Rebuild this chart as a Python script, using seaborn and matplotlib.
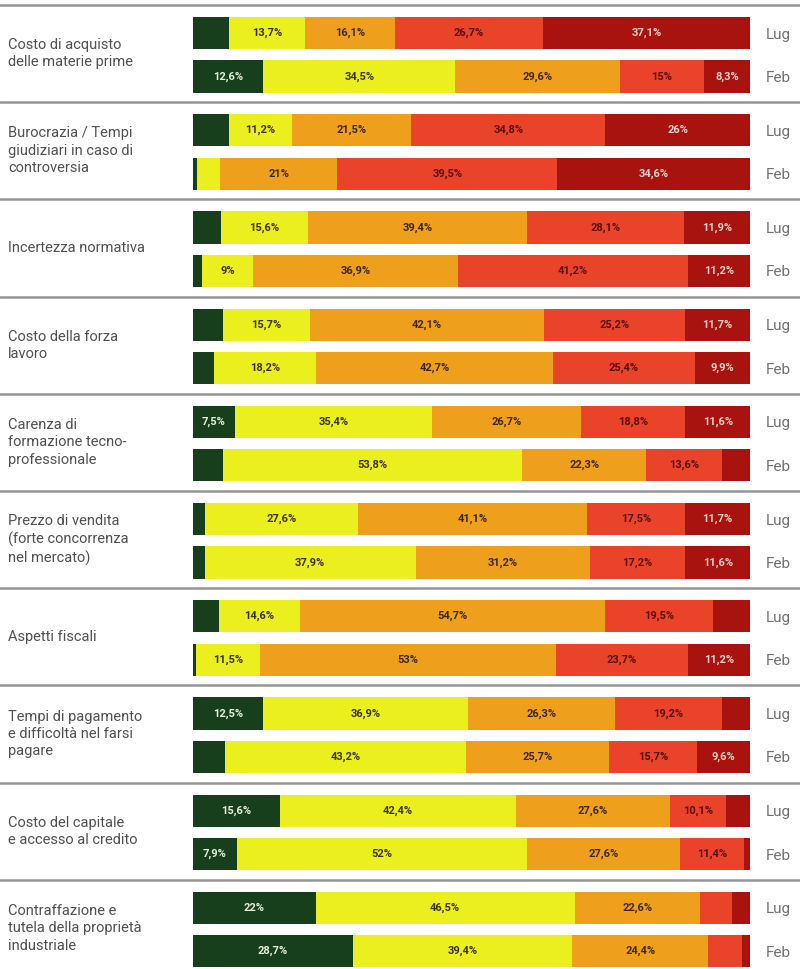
import matplotlib
matplotlib.use("Agg")
import matplotlib.pyplot as plt
from matplotlib.lines import Line2D
import seaborn as sns
import pandas as pd

sns.set_style("white")
plt.rcParams['font.family'] = ['Liberation Sans Narrow', 'Roboto', 'DejaVu Sans']

categories = [
    "Costo di acquisto\ndelle materie prime",
    "Burocrazia / Tempi\ngiudiziari in caso di\ncontroversia",
    "Incertezza normativa",
    "Costo della forza\nlavoro",
    "Carenza di\nformazione tecno-\nprofessionale",
    "Prezzo di vendita\n(forte concorrenza\nnel mercato)",
    "Aspetti fiscali",
    "Tempi di pagamento\ne difficoltà nel farsi\npagare",
    "Costo del capitale\ne accesso al credito",
    "Contraffazione e\ntutela della proprietà\nindustriale",
]
periods = ["Lug", "Feb"]

# values per level, ordered [cat1 Lug, cat1 Feb, cat2 Lug, cat2 Feb, ...]
livello_1 = [6.4, 12.6, 6.5, 0.8, 5.0, 1.7, 5.3, 3.8, 7.5, 5.3,
             2.1, 2.1, 4.6, 0.6, 12.5, 5.8, 15.6, 7.9, 22.0, 28.7]
livello_2 = [13.7, 34.5, 11.2, 4.1, 15.6, 9.0, 15.7, 18.2, 35.4, 53.8,
             27.6, 37.9, 14.6, 11.5, 36.9, 43.2, 42.4, 52.0, 46.5, 39.4]
livello_3 = [16.1, 29.6, 21.5, 21.0, 39.4, 36.9, 42.1, 42.7, 26.7, 22.3,
             41.1, 31.2, 54.7, 53.0, 26.3, 25.7, 27.6, 27.6, 22.6, 24.4]
livello_4 = [26.7, 15.0, 34.8, 39.5, 28.1, 41.2, 25.2, 25.4, 18.8, 13.6,
             17.5, 17.2, 19.5, 23.7, 19.2, 15.7, 10.1, 11.4, 5.7, 6.1]
livello_5 = [37.1, 8.3, 26.0, 34.6, 11.9, 11.2, 11.7, 9.9, 11.6, 5.0,
             11.7, 11.6, 6.6, 11.2, 5.1, 9.6, 4.3, 1.1, 3.2, 1.4]

levels = [livello_1, livello_2, livello_3, livello_4, livello_5]
colors = ["#173f1b", "#ecef1e", "#eea01c", "#e9432a", "#a8130f"]
text_colors = ["#e4eedc", "#3a3300", "#3f2600", "#5a0f08", "#f6d0c8"]

W, H = 800, 969
fig = plt.figure(figsize=(W / 100, H / 100), dpi=100)
fig.patch.set_facecolor("white")

left_px, right_px = 193, 750
top0, step = 5, 97.2

def fmt(v):
    if abs(v - round(v)) < 1e-9:
        return f"{int(round(v))}%"
    return f"{v:.1f}".replace(".", ",") + "%"

for i, cat in enumerate(categories):
    top = top0 + step * i
    ax = fig.add_axes([left_px / W, 1 - (top + step) / H,
                       (right_px - left_px) / W, step / H])
    rows = []
    for j, p in enumerate(periods):
        vals = [lv[2 * i + j] for lv in levels]
        cum = 0
        for k, v in enumerate(vals):
            rows.append(dict(period=p, level=k, value=v, start=cum, end=cum + v))
            cum += v
    df = pd.DataFrame(rows)
    for k in range(len(levels) - 1, -1, -1):
        sub = df[df.level == k]
        sns.barplot(data=sub, x="end", y="period", order=periods, orient="h",
                    color=colors[k], saturation=1, width=0.74, linewidth=0,
                    ax=ax)
    for _, r in df.iterrows():
        if r.value >= 7:
            ax.text(r.start + r.value / 2, periods.index(r.period), fmt(r.value),
                    ha="center", va="center", fontsize=8, fontweight="bold",
                    color=text_colors[int(r.level)])
    ax.set_xlim(0, 100)
    ax.set_ylim(1.59, -0.644)
    ax.set_xlabel("")
    ax.set_ylabel("")
    ax.set_xticks([])
    for s in ax.spines.values():
        s.set_visible(False)
    ax.yaxis.tick_right()
    ax.tick_params(axis="y", length=0, pad=11, labelsize=11, labelcolor="#707070")
    ax.patch.set_alpha(0)
    fig.text(8 / W, 1 - (top + step / 2) / H, cat, ha="left", va="center",
             fontsize=10.5, color="#505050", linespacing=1.3)
    fig.add_artist(Line2D([0, 1], [1 - top / H, 1 - top / H],
                          transform=fig.transFigure, color="#959595", lw=1.8))

fig.savefig("out.png", dpi=100, facecolor="white")
